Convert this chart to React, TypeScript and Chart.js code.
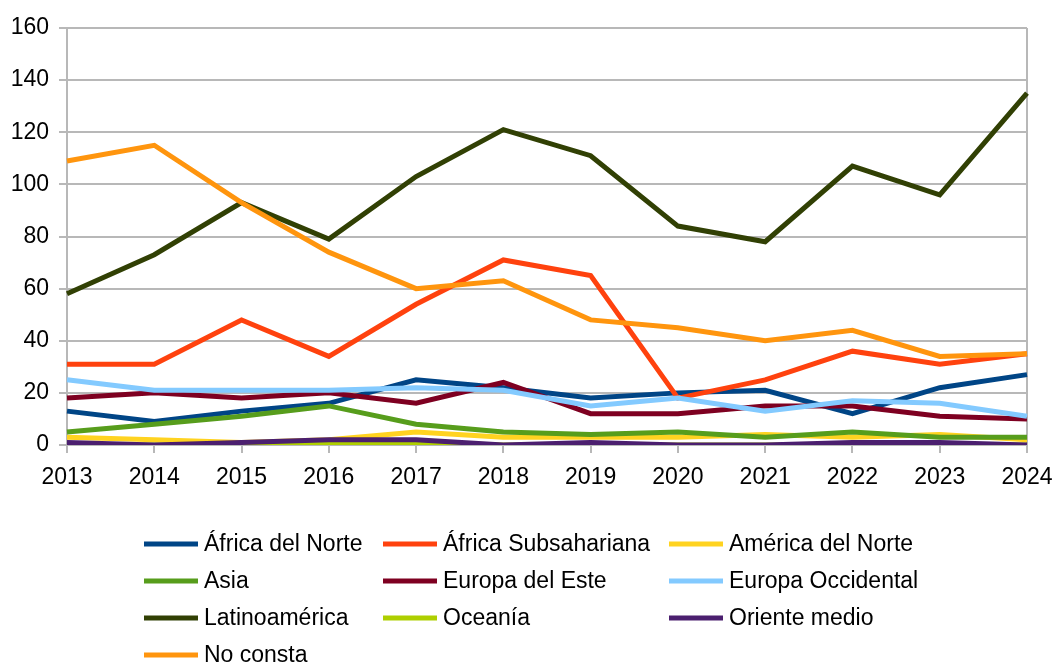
import React, { useEffect, useRef } from "react";
import { Chart, registerables } from "chart.js";

Chart.register(...registerables);

const years = ["2013", "2014", "2015", "2016", "2017", "2018", "2019", "2020", "2021", "2022", "2023", "2024"];

const seriesNames = [
  "África del Norte",
  "África Subsahariana",
  "América del Norte",
  "Asia",
  "Europa del Este",
  "Europa Occidental",
  "Latinoamérica",
  "Oceanía",
  "Oriente medio",
  "No consta",
];

const africaNorte = [13, 9, 13, 16, 25, 22, 18, 20, 21, 12, 22, 27];
const africaSubsahariana = [31, 31, 48, 34, 54, 71, 65, 18, 25, 36, 31, 35];
const americaNorte = [3, 2, 1, 2, 5, 3, 3, 3, 4, 3, 4, 2];
const asia = [5, 8, 11, 15, 8, 5, 4, 5, 3, 5, 3, 3];
const europaEste = [18, 20, 18, 20, 16, 24, 12, 12, 15, 15, 11, 10];
const europaOccidental = [25, 21, 21, 21, 22, 21, 15, 18, 13, 17, 16, 11];
const latinoamerica = [58, 73, 93, 79, 103, 121, 111, 84, 78, 107, 96, 135];
const oceania = [0, 0, 0, 1, 1, 0, 0, 0, 0, 0, 0, 0];
const orienteMedio = [1, 0, 1, 2, 2, 0, 1, 0, 0, 1, 1, 0];
const noConsta = [109, 115, 93, 74, 60, 63, 48, 45, 40, 44, 34, 35];

const seriesValues = [
  africaNorte,
  africaSubsahariana,
  americaNorte,
  asia,
  europaEste,
  europaOccidental,
  latinoamerica,
  oceania,
  orienteMedio,
  noConsta,
];

const seriesColors = [
  "#004586",
  "#ff420e",
  "#ffd320",
  "#579d1c",
  "#7e0021",
  "#83caff",
  "#314004",
  "#aecf00",
  "#4b1f6f",
  "#ff950e",
];

const FONT = "'Liberation Sans', Arial, sans-serif";
const GRID = "#b8b8b8";

const rightBorder = {
  id: "rightBorder",
  beforeDatasetsDraw(chart: any) {
    const { ctx, chartArea } = chart;
    ctx.save();
    ctx.strokeStyle = GRID;
    ctx.lineWidth = 2;
    ctx.beginPath();
    ctx.moveTo(chartArea.right, chartArea.top);
    ctx.lineTo(chartArea.right, chartArea.bottom);
    ctx.stroke();
    ctx.restore();
  },
};

const gridLegend = {
  id: "gridLegend",
  afterDraw(chart: any) {
    const { ctx } = chart;
    const colX = [144, 383, 669];
    const rowY = [544, 581, 618, 655];
    ctx.save();
    ctx.font = `23px ${FONT}`;
    ctx.textBaseline = "middle";
    ctx.textAlign = "left";
    chart.data.datasets.forEach((ds: any, i: number) => {
      const x = colX[i % 3];
      const y = rowY[Math.floor(i / 3)];
      ctx.strokeStyle = ds.borderColor;
      ctx.lineWidth = 5;
      ctx.beginPath();
      ctx.moveTo(x, y);
      ctx.lineTo(x + 54, y);
      ctx.stroke();
      ctx.fillStyle = "#000";
      ctx.fillText(ds.label, x + 60, y + 1);
    });
    ctx.restore();
  },
};

export default function App() {
  const ref = useRef<HTMLCanvasElement | null>(null);

  useEffect(() => {
    if (!ref.current) return;
    const n = seriesNames.length;
    const chart = new Chart(ref.current, {
      type: "line",
      data: {
        labels: years,
        datasets: seriesNames.map((name, i) => ({
          label: name,
          data: seriesValues[i],
          borderColor: seriesColors[i],
          backgroundColor: seriesColors[i],
          borderWidth: 5,
          pointRadius: 0,
          tension: 0,
          fill: false,
          order: n - i,
        })),
      },
      options: {
        animation: false,
        responsive: false,
        maintainAspectRatio: false,
        layout: { padding: { top: 28, right: 29, bottom: 0, left: 0 } },
        plugins: {
          legend: { display: false },
          tooltip: { enabled: false },
          title: { display: false },
        },
        scales: {
          x: {
            type: "category",
            offset: false,
            grid: {
              display: true,
              drawOnChartArea: false,
              drawTicks: true,
              tickLength: 8,
              color: GRID,
              lineWidth: 2,
              offset: false,
            },
            border: { display: true, color: GRID, width: 2 },
            ticks: {
              color: "#000",
              font: { family: FONT, size: 23 },
              padding: 11,
              maxRotation: 0,
              autoSkip: false,
            },
            afterFit: (axis: any) => {
              axis.height = 221;
              axis.paddingLeft = 0;
              axis.paddingRight = 0;
            },
          },
          y: {
            min: 0,
            max: 160,
            grid: {
              color: GRID,
              lineWidth: 2,
              tickLength: 8,
            },
            border: { display: true, color: GRID, width: 2 },
            ticks: {
              stepSize: 20,
              color: "#000",
              font: { family: FONT, size: 23 },
              padding: 10,
            },
            afterFit: (axis: any) => {
              axis.width = 67;
              axis.paddingTop = 0;
              axis.paddingBottom = 0;
            },
          },
        },
      },
      plugins: [rightBorder, gridLegend],
    });
    return () => chart.destroy();
  }, []);

  return (
    <div style={{ position: "absolute", left: 0, top: 0, width: 1056, height: 666, background: "#fff" }}>
      <canvas ref={ref} width={1056} height={666} style={{ display: "block", width: 1056, height: 666 }} />
    </div>
  );
}
